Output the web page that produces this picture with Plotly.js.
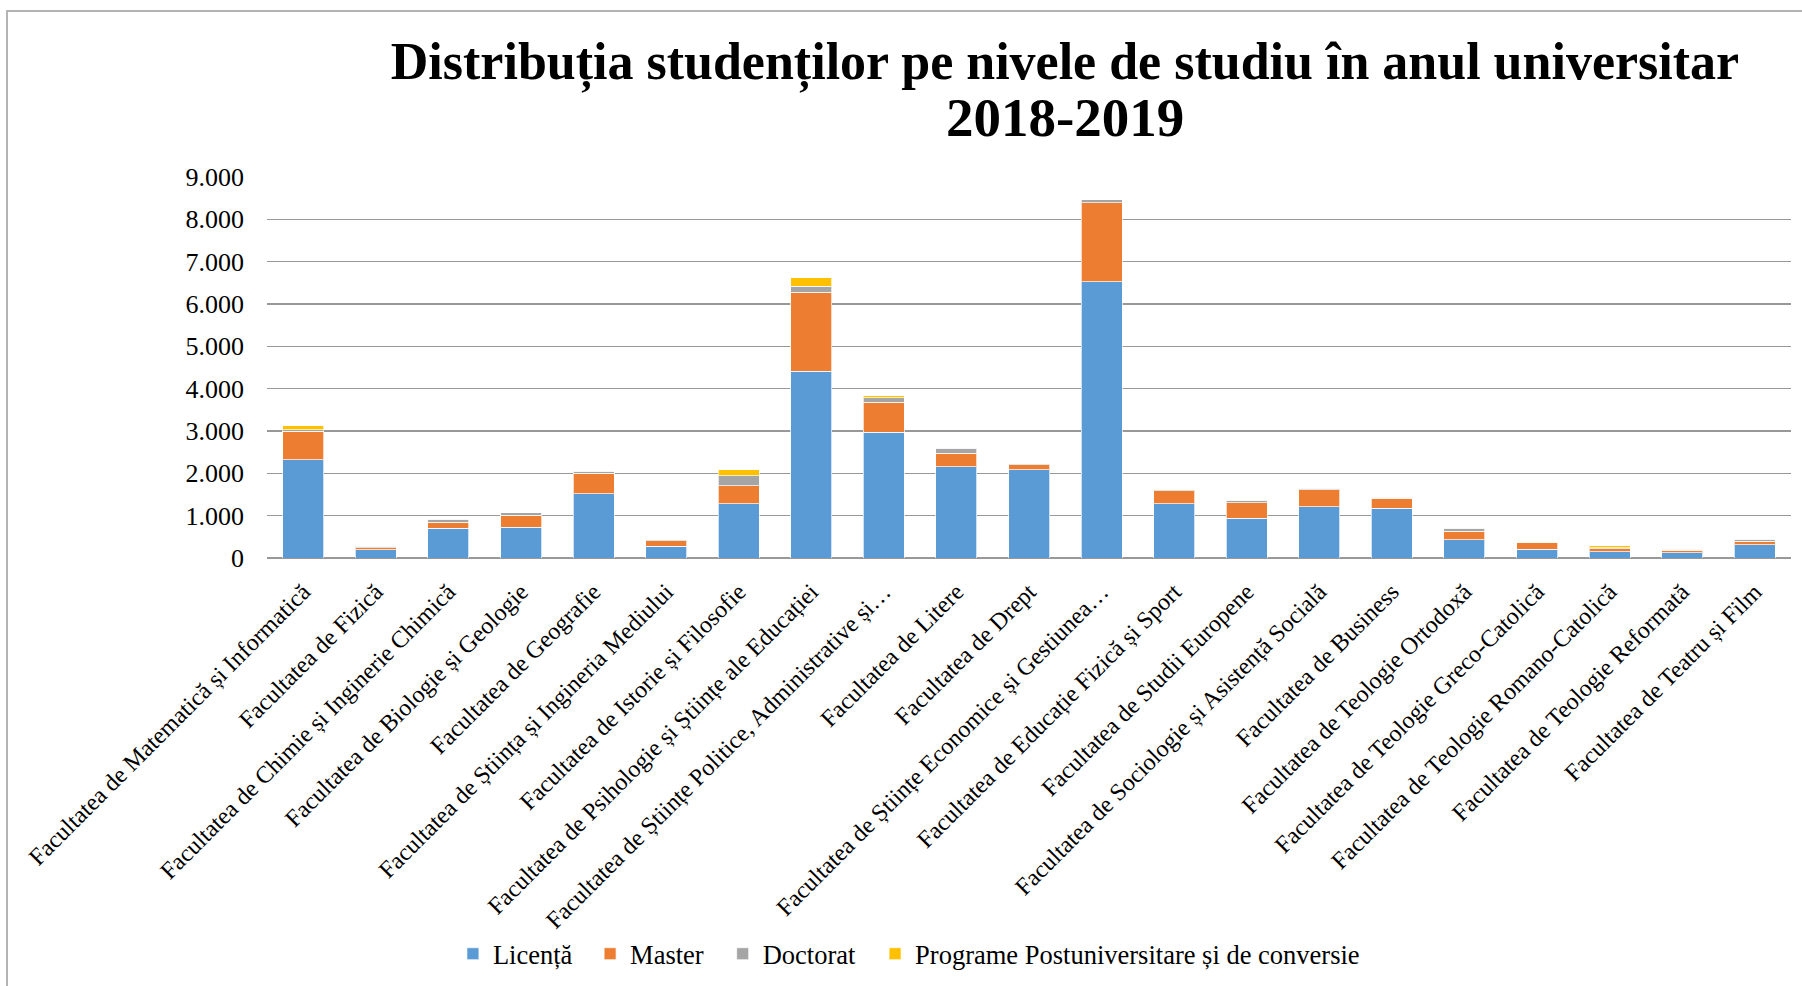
<!DOCTYPE html>
<html>
<head>
<meta charset="utf-8">
<script src="https://cdn.plot.ly/plotly-3.0.1.min.js"></script>
<style>
  html, body { margin: 0; padding: 0; background: #ffffff; }
  #frame { position: absolute; left: 6px; top: 10px; width: 1800px; height: 980px;
           border-left: 2px solid #b4b4b4; border-top: 2px solid #b4b4b4; }
  #chart { position: absolute; left: 0; top: 0; width: 1802px; height: 986px; }
</style>
</head>
<body>
<div id="frame"></div>
<div id="chart"></div>
<script>
const categories = [
  "Facultatea de Matematică și Informatică",
  "Facultatea de Fizică",
  "Facultatea de Chimie și Inginerie Chimică",
  "Facultatea de Biologie și Geologie",
  "Facultatea de Geografie",
  "Facultatea de Știința și Ingineria Mediului",
  "Facultatea de Istorie și Filosofie",
  "Facultatea de Psihologie și Științe ale Educației",
  "Facultatea de Științe Politice, Administrative și…",
  "Facultatea de Litere",
  "Facultatea de Drept",
  "Facultatea de Științe Economice și Gestiunea…",
  "Facultatea de Educație Fizică și Sport",
  "Facultatea de Studii Europene",
  "Facultatea de Sociologie și Asistență Socială",
  "Facultatea de Business",
  "Facultatea de Teologie Ortodoxă",
  "Facultatea de Teologie Greco-Catolică",
  "Facultatea de Teologie Romano-Catolică",
  "Facultatea de Teologie Reformată",
  "Facultatea de Teatru și Film"
];
const licenta  = [2320, 200, 700, 724, 1512, 283, 1283, 4417, 2976, 2150, 2079, 6528, 1283, 945, 1213, 1175, 437, 206, 151, 119, 310];
const master   = [670, 45, 150, 290, 495, 120, 425, 1865, 700, 330, 120, 1860, 300, 355, 400, 240, 190, 160, 65, 65, 80];
const doctorat = [40, 30, 60, 50, 40, 30, 235, 140, 110, 110, 30, 80, 30, 60, 30, 15, 80, 10, 30, 25, 55];
const postuniv = [100, 0, 0, 0, 0, 0, 140, 195, 50, 0, 0, 0, 0, 0, 0, 0, 0, 0, 40, 0, 0];

const seriesNames = ["Licență", "Master", "Doctorat", "Programe Postuniversitare și de conversie"];
const seriesColors = ["#5B9BD5", "#ED7D31", "#A5A5A5", "#FFC000"];
const seriesValues = [licenta, master, doctorat, postuniv];
const titleLine1 = "Distribuția studenților pe nivele de studiu în anul universitar";
const titleLine2 = "2018-2019";

const legendIds = ["legend", "legend2", "legend3", "legend4"];
const legendXs = [0.122, 0.212, 0.299, 0.399];

const traces = seriesValues.map((vals, i) => ({
  type: "bar",
  name: seriesNames[i],
  x: categories,
  y: vals,
  legend: legendIds[i],
  marker: { color: seriesColors[i], line: { color: "rgba(255,255,255,0.7)", width: 1 } },
  hoverinfo: "skip"
}));

const FONT = "Liberation Serif, Times New Roman, serif";

function legendBox(x) {
  return {
    orientation: "h",
    x: x, xanchor: "left", xref: "paper",
    yref: "container", y: 1 - 954 / 986, yanchor: "middle",
    font: { family: FONT, size: 26.5, color: "#000000" },
    itemwidth: 30,
    bgcolor: "rgba(0,0,0,0)"
  };
}

const layout = {
  width: 1802,
  height: 986,
  paper_bgcolor: "rgba(0,0,0,0)",
  plot_bgcolor: "rgba(0,0,0,0)",
  separators: ",.",
  barmode: "stack",
  bargap: 0.435,
  font: { family: FONT, color: "#000000" },
  margin: { l: 267, r: 11, t: 177, b: 428, autoexpand: false },
  title: {
    text: "<b>" + titleLine1 + "</b>",
    font: { family: FONT, size: 52, color: "#000000" },
    xref: "container", yref: "container",
    x: 0.591, xanchor: "center",
    y: 1 - 61 / 986, yanchor: "middle"
  },
  annotations: [{
    text: "<b>" + titleLine2 + "</b>",
    font: { family: FONT, size: 55, color: "#000000" },
    xref: "paper", yref: "paper",
    x: (1065 - 267) / 1524, xanchor: "center",
    y: (558 - 117) / 381, yanchor: "middle",
    showarrow: false
  }],
  xaxis: {
    type: "category",
    tickangle: -45,
    tickfont: { family: FONT, size: 24, color: "#000000" },
    showgrid: false,
    showline: false,
    ticks: "",
    ticklabelstandoff: 14,
    automargin: false
  },
  yaxis: {
    range: [0, 9000],
    tickvals: [0, 1000, 2000, 3000, 4000, 5000, 6000, 7000, 8000, 9000],
    tickformat: ",d",
    tickfont: { family: FONT, size: 26, color: "#000000" },
    showgrid: true,
    gridcolor: "#989898",
    gridwidth: 1.5,
    zeroline: true,
    zerolinecolor: "#989898",
    zerolinewidth: 1.5,
    showline: false,
    ticks: "",
    ticklabelstandoff: 22,
    automargin: false
  },
  showlegend: true,
  legend: legendBox(legendXs[0]),
  legend2: legendBox(legendXs[1]),
  legend3: legendBox(legendXs[2]),
  legend4: legendBox(legendXs[3])
};

Plotly.newPlot("chart", traces, layout, { staticPlot: true, displayModeBar: false });
</script>
</body>
</html>
